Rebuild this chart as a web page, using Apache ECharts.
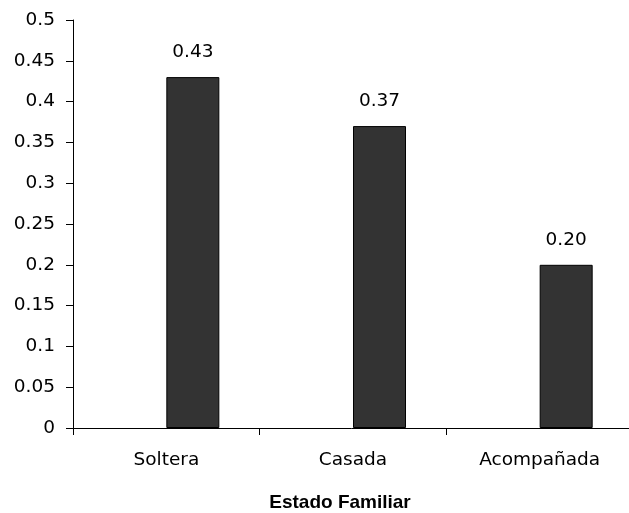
<!DOCTYPE html>
<html>
<head>
<meta charset="utf-8">
<script src="https://cdn.jsdelivr.net/npm/echarts@6/dist/echarts.min.js"></script>
<style>
html,body{margin:0;padding:0;background:#fff;}
#c{width:629px;height:513px;}
</style>
</head>
<body>
<div id="c"></div>
<script>
const categories = ['Soltera', 'Casada', 'Acompañada'];
const emptySeries = [null, null, null];
const values = [0.43, 0.37, 0.20];
const axisTitle = 'Estado Familiar';
const yMin = 0, yMax = 0.5, yStep = 0.05;

const chart = echarts.init(document.getElementById('c'), null, {renderer: 'canvas'});
const tickFont = {fontFamily: 'DejaVu Sans', fontSize: 18.5, color: '#000'};
chart.setOption({
  animation: false,
  backgroundColor: '#fff',
  grid: {left: 73, width: 560, top: 20, bottom: 85, containLabel: false, outerBoundsMode: 'none'},
  title: {
    text: axisTitle,
    left: 335, top: 488, textAlign: 'center',
    textStyle: {fontFamily: 'Liberation Sans', fontWeight: 'bold', fontSize: 19, color: '#000'}
  },
  xAxis: {
    type: 'category',
    data: categories,
    boundaryGap: true,
    axisLine: {lineStyle: {color: '#000', width: 1}},
    axisTick: {show: true, interval: 0, length: 7, lineStyle: {color: '#000'}},
    axisLabel: Object.assign({margin: 23, interval: 0}, tickFont),
    splitLine: {show: false}
  },
  yAxis: {
    type: 'value',
    min: yMin, max: yMax, interval: yStep,
    axisLine: {show: true, lineStyle: {color: '#000', width: 1}},
    axisTick: {show: true, length: 7, lineStyle: {color: '#000'}},
    axisLabel: Object.assign({margin: 18}, tickFont),
    splitLine: {show: false}
  },
  series: [
    {type: 'bar', data: emptySeries, barWidth: 53, barGap: '0%'},
    {
      type: 'bar', data: values, barWidth: 53, barGap: '0%',
      itemStyle: {color: '#333333', borderColor: '#000', borderWidth: 1},
      label: {
        show: true, position: 'top', distance: 15,
        formatter: p => p.value.toFixed(2),
        fontFamily: 'DejaVu Sans', fontSize: 18.5, color: '#000'
      }
    }
  ]
});
</script>
</body>
</html>
